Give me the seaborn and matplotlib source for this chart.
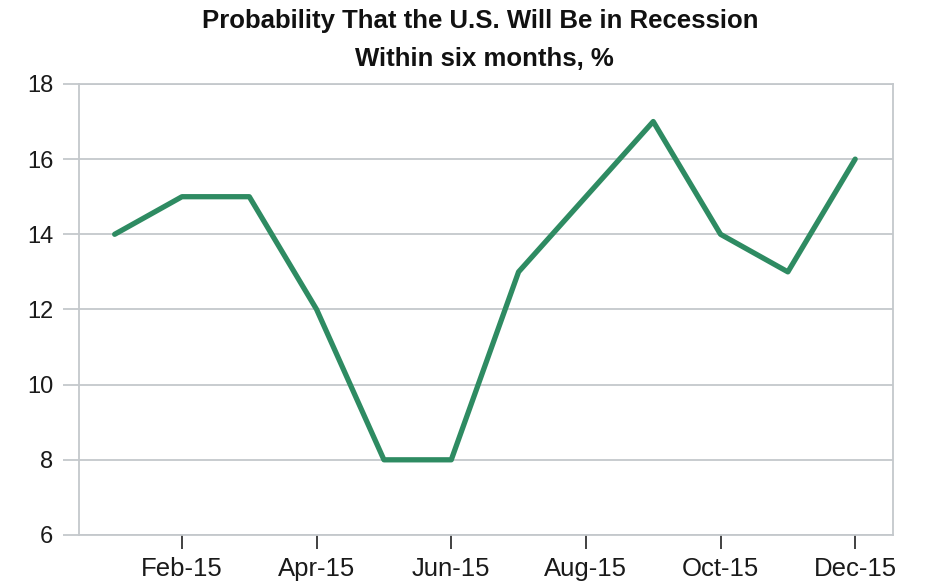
import matplotlib
matplotlib.use("Agg")
import matplotlib.pyplot as plt
import pandas as pd
import seaborn as sns

months = ["Jan-15", "Feb-15", "Mar-15", "Apr-15", "May-15", "Jun-15",
          "Jul-15", "Aug-15", "Sep-15", "Oct-15", "Nov-15", "Dec-15"]
probability = [14, 15, 15, 12, 8, 8, 13, 15, 17, 14, 13, 16]
y_ticks = [6, 8, 10, 12, 14, 16, 18]

sns.set_theme(style="white")
plt.rcParams["font.family"] = ["Liberation Sans", "DejaVu Sans"]

GRID = "#c4c8cc"
LINE = "#2e8b62"

df = pd.DataFrame({"pos": range(len(months)), "month": months, "value": probability})

fig = plt.figure(figsize=(9.27, 5.85), dpi=100)
ax = fig.add_axes([0.0852, 0.0855, 0.878, 0.771])

sns.lineplot(data=df, x="pos", y="value", ax=ax, color=LINE, linewidth=3.8, zorder=3)

ax.set_xlim(-0.53, 11.56)
ax.set_ylim(6, 18)
ax.set_yticks(y_ticks)
ax.set_yticklabels([str(t) for t in y_ticks])
shown = df["pos"][1::2]
ax.set_xticks(shown)
ax.set_xticklabels(df["month"][1::2])
ax.set_xlabel("")
ax.set_ylabel("")

ax.grid(axis="y", color=GRID, linewidth=1.3)
for side in ax.spines.values():
    side.set_color(GRID)
    side.set_linewidth(1.3)

ax.tick_params(axis="y", length=11.5, width=1.3, color=GRID, pad=7, labelsize=17, labelcolor="#1a1a1a", left=True)
ax.tick_params(axis="x", length=10, width=1.3, color="#333333", pad=6, labelsize=18.5, labelcolor="#1a1a1a", bottom=True, direction="out")

fig.text(0.518, 0.964, "Probability That the U.S. Will Be in Recession",
         ha="center", va="center", fontsize=18.5, fontweight="bold", color="#111111")
fig.text(0.523, 0.899, "Within six months, %",
         ha="center", va="center", fontsize=18.5, fontweight="bold", color="#111111")

fig.savefig("out.png", dpi=100)
